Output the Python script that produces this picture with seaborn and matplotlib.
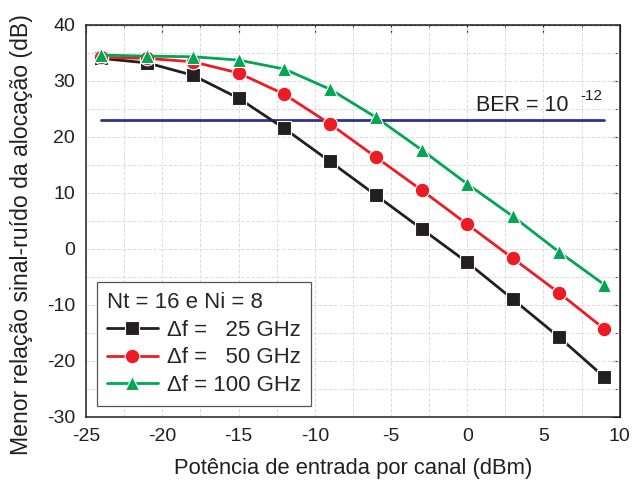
import numpy as np
import pandas as pd
import matplotlib
matplotlib.use("Agg")
import matplotlib.pyplot as plt
import seaborn as sns

# potencia de entrada por canal (dBm)
potencia = [-24, -21, -18, -15, -12, -9, -6, -3, 0, 3, 6, 9]

# menor OSNR da alocacao (dB) para cada espacamento
osnr_25 = [34.0, 33.2, 31.0, 26.9, 21.5, 15.6, 9.6, 3.6, -2.4, -9.0, -15.7, -22.9]
osnr_50 = [34.2, 34.0, 33.4, 31.4, 27.6, 22.3, 16.4, 10.5, 4.4, -1.7, -7.8, -14.3]
osnr_100 = [34.6, 34.4, 34.3, 33.7, 32.1, 28.5, 23.5, 17.7, 11.6, 5.8, -0.5, -6.4]

labels = ["\u0394f =   25 GHz", "\u0394f =   50 GHz", "\u0394f = 100 GHz"]
ber_limite = 23.0
ber_x = [-24, 9]

cores = ["#231f20", "#ed1c24", "#00a651"]
marcadores = ["s", "o", "^"]

df = pd.DataFrame({
    "potencia": potencia * 3,
    "osnr": osnr_25 + osnr_50 + osnr_100,
    "serie": [labels[0]] * len(potencia) + [labels[1]] * len(potencia) + [labels[2]] * len(potencia),
})

sns.set_style("white")
plt.rcParams["font.family"] = ["Liberation Sans", "DejaVu Sans"]
plt.rcParams["axes.unicode_minus"] = False

fig = plt.figure(figsize=(6.33, 4.86), dpi=100)
ax = fig.add_axes([0.136, 0.142, 0.843, 0.807])

ax.plot(ber_x, [ber_limite, ber_limite], color="#2e3192", lw=2.0, zorder=2)

sns.lineplot(data=df, x="potencia", y="osnr", hue="serie", style="serie",
             palette=cores, markers=marcadores, dashes=False, lw=2.0,
             markersize=10.5, markeredgewidth=0.8, markeredgecolor="white",
             ax=ax, zorder=3)

ax.text(0.6, 24.6, "BER = 10", fontsize=15.5, color="#231f20")
ax.annotate("-12", xy=(0.6, 24.6), xytext=(75, 8), textcoords="offset points",
            fontsize=11, color="#231f20")

ax.set_xlim(-25, 10)
ax.set_ylim(-30, 40)
ax.set_xticks(np.arange(-25, 11, 5))
ax.set_yticks(np.arange(-30, 41, 10))
ax.set_xticks(np.arange(-22.5, 10, 5), minor=True)
ax.set_yticks(np.arange(-25, 40, 10), minor=True)
ax.grid(True, which="both", color="#dcdcdc", ls="--", lw=0.7)
ax.set_axisbelow(True)

for s in ax.spines.values():
    s.set_color("#231f20")
    s.set_linewidth(1.1)

ax.tick_params(which="both", direction="out", colors="#231f20", labelsize=14, width=1.0)
ax.tick_params(which="major", length=6, pad=2)
ax.tick_params(which="minor", length=3)

topo = ax.secondary_xaxis("top")
topo.set_xticks(np.arange(-25, 11, 5))
topo.set_xticks(np.arange(-22.5, 10, 5), minor=True)
topo.tick_params(which="both", direction="in", labeltop=False, color="#231f20")
topo.tick_params(which="major", length=6)
topo.tick_params(which="minor", length=3.5)
dir_ax = ax.secondary_yaxis("right")
dir_ax.set_yticks(np.arange(-30, 41, 10))
dir_ax.set_yticks(np.arange(-25, 40, 10), minor=True)
dir_ax.tick_params(which="both", direction="in", labelright=False, color="#231f20")
dir_ax.tick_params(which="major", length=6)
dir_ax.tick_params(which="minor", length=3.5)

ax.set_xlabel("Potência de entrada por canal (dBm)", fontsize=15.8, color="#231f20", labelpad=9)
ax.set_ylabel("Menor relação sinal-ruído da alocação (dB)", fontsize=16.6, color="#231f20")
ax.yaxis.set_label_coords(-0.1, 0.464)

handles, lbls = ax.get_legend_handles_labels()
leg = ax.legend(handles, lbls, title="Nt = 16 e Ni = 8", loc="lower left",
                bbox_to_anchor=(0.02, 0.028), borderaxespad=0, fontsize=16, title_fontsize=16,
                frameon=True, fancybox=False, edgecolor="#555555", framealpha=1,
                alignment="left", handlelength=2.3, handletextpad=0.4,
                labelspacing=0.3, borderpad=0.45)
leg.get_frame().set_linewidth(0.9)

fig.savefig("out.png", dpi=100)
